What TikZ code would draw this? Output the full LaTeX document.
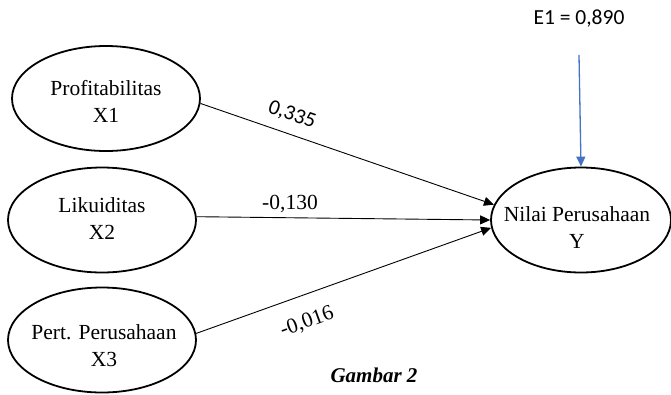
\documentclass[tikz,border=0pt]{standalone}
\usepackage{fontspec}
\setmainfont{Liberation Serif}
\newfontfamily\calibri{Carlito}
\usetikzlibrary{shapes.geometric,arrows.meta}
\begin{document}
\begin{tikzpicture}[x=1pt,y=-1pt,
  var/.style={draw, ellipse, line width=1.8pt, minimum width=188pt, minimum height=105pt, inner sep=0pt},
  vtext/.style={align=center, inner sep=0pt, font=\fontsize{21.5}{27}\selectfont},
  path/.style={line width=0.9pt, -{Triangle[length=10pt,width=9pt]}},
  lbl/.style={inner sep=0pt, font=\fontsize{21.5}{26}\selectfont},
  sanslbl/.style={inner sep=0pt, font=\calibri\fontsize{21.5}{26}\selectfont}]
\useasboundingbox (0,0) rectangle (671,394);
\node[var] (x1) at (106,98.5) {};
\node[var] (x2) at (102,220) {};
\node[var] (x3) at (102,340) {};
\node[var, minimum width=180pt] (y) at (581,220) {};
\node[vtext] (t1) at (106,101) {Profitabilitas\\X1};
\node[vtext] (t2) at (102,219) {Likuiditas\\X2};
\node[vtext] (t3) at (104,346) {Pert. Perusahaan\\X3};
\node[vtext] (ty) at (577,228) {Nilai Perusahaan\\Y};
\coordinate (e0) at (579,55);
\draw[path] (x1.-3) -- (y.170);
\draw[path] (x2.2) -- (y.west);
\draw[path] (x3.4) -- (y.185);
\draw[line width=1.3pt, color={rgb,255:red,68;green,114;blue,196}, -{Triangle[length=10pt,width=9pt]}] (e0) -- (y.north);
\node[sanslbl, anchor=base] (le) at (579,24) {E1 = 0,890};
\node[sanslbl, rotate=-19.5] (l1) at (292,115) {0,335};
\node[lbl, anchor=base] (l2) at (290,209) {-0,130};
\node[lbl, rotate=20] (l3) at (307,322) {-0,016};
\node[lbl, anchor=base, font=\bfseries\itshape\fontsize{21}{26}\selectfont] (cap) at (374,382) {Gambar 2};
\end{tikzpicture}
\end{document}
